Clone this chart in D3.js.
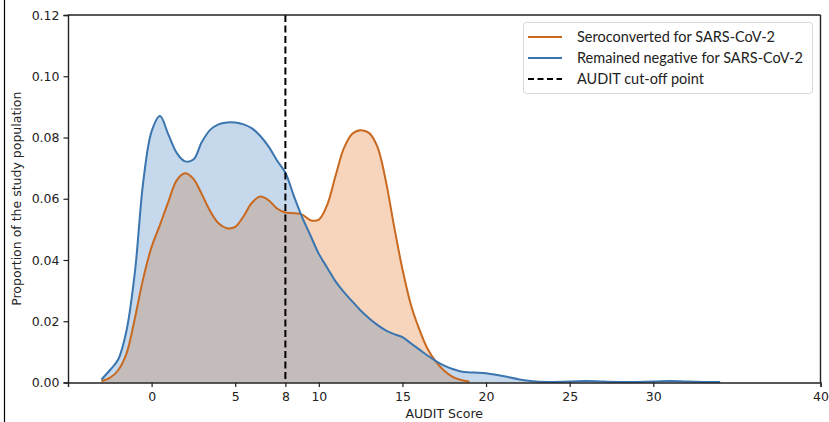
<!DOCTYPE html>
<html>
<head>
<meta charset="utf-8">
<script src="https://cdn.jsdelivr.net/npm/d3@7"></script>
<style>
  html, body { margin: 0; padding: 0; background: #fff; }
  svg { display: block; }
</style>
</head>
<body>
<svg id="chart" width="829" height="422"></svg>
<script>
// ---- data ----
const blueScores = [-3,-2.5,-2,-1.5,-1,-0.5,0,0.5,1,1.5,2,2.5,3,3.5,4,4.5,5,5.5,6,6.5,7,7.5,8,8.5,9,9.5,10,10.5,11,11.5,12,12.5,13,13.5,14,14.5,15,15.5,16,16.5,17,17.5,18,18.5,19,19.5,20,21,22,23,24,25,26,27,28,29,30,31,32,33,34];
const blueValues = [0.001,0.004,0.0075,0.017,0.036,0.0655,0.082,0.087,0.081,0.075,0.0722,0.0728,0.0785,0.0825,0.0843,0.0849,0.0849,0.0843,0.083,0.0805,0.077,0.0725,0.0685,0.061,0.054,0.048,0.042,0.0375,0.033,0.0295,0.0265,0.0235,0.021,0.0188,0.017,0.0158,0.0148,0.0128,0.0108,0.0088,0.007,0.0055,0.0044,0.0036,0.0033,0.0032,0.003,0.0021,0.001,0.0003,0.0002,0.0003,0.0005,0.0003,0.0002,0.0002,0.0003,0.0005,0.0003,0.0002,0.0002];
const orangeScores = [-3,-2.5,-2,-1.5,-1,-0.5,0,0.5,1,1.5,2,2.5,3,3.5,4,4.5,5,5.5,6,6.5,7,7.5,8,8.5,9,9.5,10,10.5,11,11.5,12,12.5,13,13.5,14,14.5,15,15.5,16,16.5,17,17.5,18,18.5,19];
const orangeValues = [0.0005,0.0015,0.004,0.0095,0.021,0.034,0.0443,0.0515,0.059,0.066,0.0683,0.0665,0.0615,0.056,0.052,0.0504,0.0508,0.0543,0.0587,0.0607,0.0595,0.0568,0.0555,0.0553,0.0548,0.053,0.0532,0.058,0.0675,0.0765,0.0812,0.0824,0.0815,0.077,0.066,0.051,0.037,0.0255,0.0175,0.011,0.0068,0.0038,0.0018,0.0008,0.0003];
const cutoff = 8;
const xTicks = [0,5,8,10,15,20,25,30,40];
const yTicks = [0,0.02,0.04,0.06,0.08,0.10,0.12];
const seriesNames = ["Seroconverted for SARS-CoV-2","Remained negative for SARS-CoV-2","AUDIT cut-off point"];
const xTitle = "AUDIT Score";
const yTitle = "Proportion of the study population";

// ---- layout ----
const svg = d3.select("#chart");
const L = 68, R = 820.5, T = 15, B = 382.5;
const x = d3.scaleLinear().domain([-5, 40]).range([L, R]);
const y = d3.scaleLinear().domain([0, 0.12]).range([B, T]);

const blueC = "#3b75af", orangeC = "#c9681f";
const blueFill = "#c6d9ec", orangeFill = "#f6d5bc", overlapFill = "#c3bcba";

const blue = blueScores.map((s, i) => ({s, v: blueValues[i]}));
const orange = orangeScores.map((s, i) => ({s, v: orangeValues[i]}));
const blueMap = new Map(blueScores.map((s, i) => [s, blueValues[i]]));
const overlap = orangeScores.map((s, i) => ({s, v: Math.min(orangeValues[i], blueMap.get(s))}));

const curve = d3.curveCatmullRom.alpha(0.5);
const area = d3.area().x(d => x(d.s)).y0(y(0)).y1(d => y(d.v)).curve(curve);
const line = d3.line().x(d => x(d.s)).y(d => y(d.v)).curve(curve);

// figure left border
svg.append("line").attr("x1", 4.5).attr("x2", 4.5).attr("y1", 0).attr("y2", 422)
  .attr("stroke", "#000").attr("stroke-width", 1.2);

svg.append("path").datum(blue).attr("d", area).attr("fill", blueFill);
svg.append("path").datum(orange).attr("d", area).attr("fill", orangeFill);
svg.append("path").datum(overlap).attr("d", area).attr("fill", overlapFill);
svg.append("path").datum(orange).attr("d", line).attr("fill", "none").attr("stroke", orangeC).attr("stroke-width", 2);
svg.append("path").datum(blue).attr("d", line).attr("fill", "none").attr("stroke", blueC).attr("stroke-width", 2);

// cut-off line
svg.append("line").attr("x1", x(cutoff)).attr("x2", x(cutoff)).attr("y1", T).attr("y2", B)
  .attr("stroke", "#000").attr("stroke-width", 2).attr("stroke-dasharray", "7,3.5");

// axes
const fontTick = "DejaVu Sans";
const xAxis = d3.axisBottom(x).tickValues(xTicks).tickFormat(d3.format("d")).tickSizeOuter(0).tickSize(4.5).tickPadding(5);
const yAxis = d3.axisLeft(y).tickValues(yTicks).tickFormat(d3.format(".2f")).tickSizeOuter(0).tickSize(4.5).tickPadding(4);
const gx = svg.append("g").attr("transform", `translate(0,${B})`).call(xAxis);
const gy = svg.append("g").attr("transform", `translate(${L},0)`).call(yAxis);
[gx, gy].forEach(g => {
  g.selectAll("text").attr("font-family", fontTick).attr("font-size", 12.5).attr("fill", "#222");
  g.selectAll(".tick line").attr("stroke", "#222").attr("stroke-width", 1.2);
  g.select(".domain").attr("stroke", "#222").attr("stroke-width", 1.4);
});
// top & right spines
svg.append("line").attr("x1", L).attr("x2", R).attr("y1", T).attr("y2", T).attr("stroke", "#222").attr("stroke-width", 1.4);
svg.append("line").attr("x1", R).attr("x2", R).attr("y1", T).attr("y2", B).attr("stroke", "#222").attr("stroke-width", 1.4);

// axis titles
svg.append("text").attr("x", (L + R) / 2).attr("y", 418).attr("text-anchor", "middle")
  .attr("font-family", fontTick).attr("font-size", 12.5).attr("fill", "#222").text(xTitle);
svg.append("text").attr("transform", `translate(21,${(T + B) / 2}) rotate(-90)`).attr("text-anchor", "middle")
  .attr("font-family", fontTick).attr("font-size", 12.5).attr("fill", "#222").text(yTitle);

// legend
const lg = svg.append("g");
lg.append("rect").attr("x", 523.5).attr("y", 22.5).attr("width", 289).attr("height", 71).attr("rx", 3)
  .attr("fill", "#fff").attr("fill-opacity", 0.85).attr("stroke", "#d8d8d8");
const legendItems = [
  {name: seriesNames[0], color: orangeC, dash: null},
  {name: seriesNames[1], color: blueC, dash: null},
  {name: seriesNames[2], color: "#000", dash: "6,3.5"}
];
legendItems.forEach((it, i) => {
  const cy = 37 + i * 21;
  lg.append("line").attr("x1", 528).attr("x2", 562).attr("y1", cy).attr("y2", cy)
    .attr("stroke", it.color).attr("stroke-width", 2).attr("stroke-dasharray", it.dash);
  lg.append("text").attr("x", 577).attr("y", cy + 5).attr("font-family", "Lato, 'Open Sans', sans-serif")
    .attr("font-size", 14.5).attr("fill", "#222").text(it.name);
});
</script>
</body>
</html>
